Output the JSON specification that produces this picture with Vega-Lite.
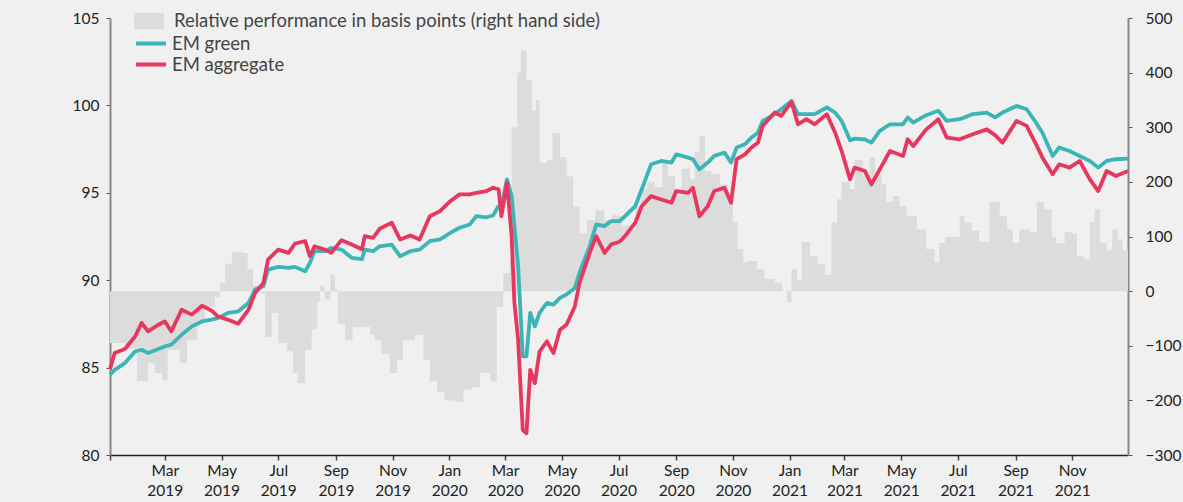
{
  "$schema": "https://vega.github.io/schema/vega-lite/v6.json",
  "width": 1018,
  "height": 437,
  "autosize": {"type": "none"},
  "padding": {"left": 110, "top": 18, "right": 55, "bottom": 47},
  "background": "#f0f0f0",
  "config": {
    "view": {"stroke": null},
    "font": "Lato",
    "axis": {"grid": false, "title": null, "labelFont": "Lato", "labelFontSize": 15.5, "labelColor": "#222"},
    "legend": {"labelFont": "Lato"}
  },
  "datasets": {
    "lines": [
      {"date": "2019-01-01", "green": 84.6, "aggregate": 84.9},
      {"date": "2019-01-06", "green": 84.87, "aggregate": 85.83},
      {"date": "2019-01-17", "green": 85.26, "aggregate": 86.06},
      {"date": "2019-01-28", "green": 85.92, "aggregate": 86.78},
      {"date": "2019-02-04", "green": 86.02, "aggregate": 87.55},
      {"date": "2019-02-11", "green": 85.83, "aggregate": 87.07},
      {"date": "2019-02-22", "green": 86.06, "aggregate": 87.45},
      {"date": "2019-03-01", "green": 86.21, "aggregate": 87.64},
      {"date": "2019-03-08", "green": 86.31, "aggregate": 87.07},
      {"date": "2019-03-19", "green": 86.88, "aggregate": 88.31},
      {"date": "2019-03-30", "green": 87.36, "aggregate": 88.03},
      {"date": "2019-04-10", "green": 87.64, "aggregate": 88.54},
      {"date": "2019-04-20", "green": 87.74, "aggregate": 88.27},
      {"date": "2019-04-27", "green": 87.83, "aggregate": 87.93},
      {"date": "2019-05-08", "green": 88.13, "aggregate": 87.74},
      {"date": "2019-05-19", "green": 88.22, "aggregate": 87.51},
      {"date": "2019-05-30", "green": 88.7, "aggregate": 88.31},
      {"date": "2019-06-06", "green": 89.46, "aggregate": 89.27},
      {"date": "2019-06-15", "green": 89.65, "aggregate": 89.84},
      {"date": "2019-06-20", "green": 90.61, "aggregate": 91.18},
      {"date": "2019-07-01", "green": 90.76, "aggregate": 91.75},
      {"date": "2019-07-12", "green": 90.7, "aggregate": 91.56},
      {"date": "2019-07-19", "green": 90.76, "aggregate": 92.1},
      {"date": "2019-07-30", "green": 90.51, "aggregate": 92.23},
      {"date": "2019-08-04", "green": 90.99, "aggregate": 91.37},
      {"date": "2019-08-09", "green": 91.66, "aggregate": 91.94},
      {"date": "2019-08-20", "green": 91.66, "aggregate": 91.75},
      {"date": "2019-08-27", "green": 91.85, "aggregate": 91.56},
      {"date": "2019-09-07", "green": 91.75, "aggregate": 92.29},
      {"date": "2019-09-18", "green": 91.28, "aggregate": 92.04},
      {"date": "2019-09-29", "green": 91.2, "aggregate": 91.77},
      {"date": "2019-10-02", "green": 91.75, "aggregate": 92.52},
      {"date": "2019-10-11", "green": 91.66, "aggregate": 92.42},
      {"date": "2019-10-18", "green": 91.94, "aggregate": 92.94},
      {"date": "2019-10-31", "green": 92.04, "aggregate": 93.29},
      {"date": "2019-11-09", "green": 91.37, "aggregate": 92.33},
      {"date": "2019-11-20", "green": 91.66, "aggregate": 92.56},
      {"date": "2019-11-30", "green": 91.75, "aggregate": 92.33},
      {"date": "2019-12-11", "green": 92.23, "aggregate": 93.66},
      {"date": "2019-12-22", "green": 92.33, "aggregate": 93.95},
      {"date": "2020-01-02", "green": 92.71, "aggregate": 94.52},
      {"date": "2020-01-12", "green": 93.0, "aggregate": 94.91},
      {"date": "2020-01-23", "green": 93.19, "aggregate": 94.91},
      {"date": "2020-01-30", "green": 93.66, "aggregate": 95.0},
      {"date": "2020-02-10", "green": 93.6, "aggregate": 95.1},
      {"date": "2020-02-17", "green": 93.7, "aggregate": 95.29},
      {"date": "2020-02-23", "green": 94.24, "aggregate": 95.2},
      {"date": "2020-02-26", "green": 94.24, "aggregate": 93.66},
      {"date": "2020-03-03", "green": 95.77, "aggregate": 95.58},
      {"date": "2020-03-08", "green": 94.81, "aggregate": 92.52},
      {"date": "2020-03-11", "green": 93.09, "aggregate": 88.7},
      {"date": "2020-03-15", "green": 90.8, "aggregate": 86.59},
      {"date": "2020-03-20", "green": 85.64, "aggregate": 81.43},
      {"date": "2020-03-24", "green": 85.64, "aggregate": 81.24},
      {"date": "2020-03-28", "green": 88.13, "aggregate": 84.87},
      {"date": "2020-04-02", "green": 87.36, "aggregate": 84.11},
      {"date": "2020-04-07", "green": 88.13, "aggregate": 85.92},
      {"date": "2020-04-15", "green": 88.7, "aggregate": 86.5},
      {"date": "2020-04-22", "green": 88.6, "aggregate": 85.83},
      {"date": "2020-04-29", "green": 88.99, "aggregate": 87.17},
      {"date": "2020-05-06", "green": 89.18, "aggregate": 87.45},
      {"date": "2020-05-15", "green": 89.56, "aggregate": 88.5},
      {"date": "2020-05-20", "green": 90.42, "aggregate": 89.84},
      {"date": "2020-05-31", "green": 91.94, "aggregate": 91.56},
      {"date": "2020-06-07", "green": 93.19, "aggregate": 92.52},
      {"date": "2020-06-16", "green": 93.1, "aggregate": 91.56},
      {"date": "2020-06-23", "green": 93.38, "aggregate": 92.04},
      {"date": "2020-07-02", "green": 93.38, "aggregate": 92.2},
      {"date": "2020-07-08", "green": 93.66, "aggregate": 92.52},
      {"date": "2020-07-19", "green": 94.24, "aggregate": 93.29},
      {"date": "2020-07-26", "green": 95.2, "aggregate": 94.24},
      {"date": "2020-08-05", "green": 96.63, "aggregate": 94.81},
      {"date": "2020-08-16", "green": 96.82, "aggregate": 94.62},
      {"date": "2020-08-27", "green": 96.73, "aggregate": 94.43},
      {"date": "2020-09-01", "green": 97.2, "aggregate": 95.1},
      {"date": "2020-09-14", "green": 97.01, "aggregate": 95.0},
      {"date": "2020-09-19", "green": 96.92, "aggregate": 95.29},
      {"date": "2020-09-26", "green": 96.34, "aggregate": 93.66},
      {"date": "2020-10-05", "green": 96.73, "aggregate": 94.24},
      {"date": "2020-10-12", "green": 97.11, "aggregate": 95.1},
      {"date": "2020-10-23", "green": 97.3, "aggregate": 95.29},
      {"date": "2020-10-30", "green": 96.73, "aggregate": 94.43},
      {"date": "2020-11-05", "green": 97.59, "aggregate": 96.92},
      {"date": "2020-11-14", "green": 97.78, "aggregate": 97.2},
      {"date": "2020-11-21", "green": 98.16, "aggregate": 97.59},
      {"date": "2020-11-28", "green": 98.44, "aggregate": 97.87},
      {"date": "2020-12-03", "green": 99.11, "aggregate": 98.83},
      {"date": "2020-12-16", "green": 99.5, "aggregate": 99.59},
      {"date": "2020-12-23", "green": 99.78, "aggregate": 99.4},
      {"date": "2021-01-03", "green": 100.26, "aggregate": 100.2},
      {"date": "2021-01-10", "green": 99.5, "aggregate": 98.92},
      {"date": "2021-01-19", "green": 99.5, "aggregate": 99.21},
      {"date": "2021-01-28", "green": 99.5, "aggregate": 98.92},
      {"date": "2021-02-10", "green": 99.88, "aggregate": 99.5},
      {"date": "2021-02-19", "green": 99.59, "aggregate": 98.44},
      {"date": "2021-02-26", "green": 99.11, "aggregate": 97.39},
      {"date": "2021-03-07", "green": 98.0, "aggregate": 95.77},
      {"date": "2021-03-12", "green": 98.1, "aggregate": 96.44},
      {"date": "2021-03-23", "green": 98.05, "aggregate": 96.25},
      {"date": "2021-03-30", "green": 97.87, "aggregate": 95.48},
      {"date": "2021-04-08", "green": 98.54, "aggregate": 96.34},
      {"date": "2021-04-19", "green": 98.92, "aggregate": 97.39},
      {"date": "2021-05-03", "green": 98.92, "aggregate": 97.11},
      {"date": "2021-05-08", "green": 99.31, "aggregate": 98.06},
      {"date": "2021-05-14", "green": 99.02, "aggregate": 97.68},
      {"date": "2021-05-28", "green": 99.44, "aggregate": 98.63},
      {"date": "2021-06-10", "green": 99.69, "aggregate": 99.21},
      {"date": "2021-06-19", "green": 99.11, "aggregate": 98.16},
      {"date": "2021-07-03", "green": 99.21, "aggregate": 98.06},
      {"date": "2021-07-17", "green": 99.5, "aggregate": 98.35},
      {"date": "2021-08-01", "green": 99.59, "aggregate": 98.63},
      {"date": "2021-08-10", "green": 99.31, "aggregate": 98.3},
      {"date": "2021-08-18", "green": 99.59, "aggregate": 97.87},
      {"date": "2021-09-02", "green": 99.97, "aggregate": 99.11},
      {"date": "2021-09-13", "green": 99.78, "aggregate": 98.83},
      {"date": "2021-09-23", "green": 99.02, "aggregate": 97.78},
      {"date": "2021-09-30", "green": 98.44, "aggregate": 97.01},
      {"date": "2021-10-11", "green": 97.11, "aggregate": 96.06},
      {"date": "2021-10-18", "green": 97.59, "aggregate": 96.63},
      {"date": "2021-10-29", "green": 97.39, "aggregate": 96.44},
      {"date": "2021-11-09", "green": 97.11, "aggregate": 96.82},
      {"date": "2021-11-20", "green": 96.82, "aggregate": 95.77},
      {"date": "2021-11-29", "green": 96.44, "aggregate": 95.1},
      {"date": "2021-12-08", "green": 96.82, "aggregate": 96.25},
      {"date": "2021-12-18", "green": 96.92, "aggregate": 95.96},
      {"date": "2021-12-31", "green": 96.96, "aggregate": 96.25}
    ],
    "rel": [
      {"date": "2019-01-01", "bp": -95},
      {"date": "2019-01-17", "bp": -105},
      {"date": "2019-01-30", "bp": -165},
      {"date": "2019-02-11", "bp": -132},
      {"date": "2019-02-18", "bp": -150},
      {"date": "2019-02-26", "bp": -163},
      {"date": "2019-03-04", "bp": -108},
      {"date": "2019-03-17", "bp": -132},
      {"date": "2019-03-25", "bp": -90},
      {"date": "2019-04-05", "bp": -55},
      {"date": "2019-04-13", "bp": -29},
      {"date": "2019-04-24", "bp": -11},
      {"date": "2019-04-29", "bp": 15},
      {"date": "2019-05-05", "bp": 50},
      {"date": "2019-05-12", "bp": 72},
      {"date": "2019-05-23", "bp": 70},
      {"date": "2019-05-29", "bp": 40},
      {"date": "2019-06-04", "bp": 10},
      {"date": "2019-06-13", "bp": -5},
      {"date": "2019-06-17", "bp": -84},
      {"date": "2019-06-24", "bp": -40},
      {"date": "2019-07-01", "bp": -95},
      {"date": "2019-07-10", "bp": -110},
      {"date": "2019-07-17", "bp": -150},
      {"date": "2019-07-22", "bp": -168},
      {"date": "2019-07-30", "bp": -108},
      {"date": "2019-08-06", "bp": -70},
      {"date": "2019-08-12", "bp": -20},
      {"date": "2019-08-15", "bp": 10},
      {"date": "2019-08-20", "bp": -15},
      {"date": "2019-08-26", "bp": 30},
      {"date": "2019-08-31", "bp": 5},
      {"date": "2019-09-03", "bp": -60},
      {"date": "2019-09-11", "bp": -90},
      {"date": "2019-09-19", "bp": -66},
      {"date": "2019-10-02", "bp": -65},
      {"date": "2019-10-08", "bp": -80},
      {"date": "2019-10-13", "bp": -90},
      {"date": "2019-10-20", "bp": -115},
      {"date": "2019-10-29", "bp": -150},
      {"date": "2019-11-06", "bp": -126},
      {"date": "2019-11-12", "bp": -90},
      {"date": "2019-11-25", "bp": -80},
      {"date": "2019-12-04", "bp": -126},
      {"date": "2019-12-11", "bp": -165},
      {"date": "2019-12-19", "bp": -185},
      {"date": "2019-12-27", "bp": -200},
      {"date": "2020-01-07", "bp": -203},
      {"date": "2020-01-16", "bp": -180},
      {"date": "2020-01-25", "bp": -176},
      {"date": "2020-02-03", "bp": -150},
      {"date": "2020-02-14", "bp": -165},
      {"date": "2020-02-21", "bp": -29},
      {"date": "2020-02-28", "bp": 33},
      {"date": "2020-03-06", "bp": 60},
      {"date": "2020-03-08", "bp": 300},
      {"date": "2020-03-14", "bp": 400},
      {"date": "2020-03-18", "bp": 441},
      {"date": "2020-03-24", "bp": 386},
      {"date": "2020-03-30", "bp": 330},
      {"date": "2020-04-03", "bp": 350},
      {"date": "2020-04-07", "bp": 235},
      {"date": "2020-04-15", "bp": 240},
      {"date": "2020-04-21", "bp": 289},
      {"date": "2020-04-29", "bp": 245},
      {"date": "2020-05-06", "bp": 210},
      {"date": "2020-05-13", "bp": 154},
      {"date": "2020-05-20", "bp": 106},
      {"date": "2020-05-28", "bp": 130},
      {"date": "2020-06-06", "bp": 148},
      {"date": "2020-06-16", "bp": 130},
      {"date": "2020-06-24", "bp": 140},
      {"date": "2020-06-27", "bp": 138},
      {"date": "2020-07-05", "bp": 120},
      {"date": "2020-07-13", "bp": 113},
      {"date": "2020-07-19", "bp": 156},
      {"date": "2020-07-25", "bp": 187},
      {"date": "2020-08-01", "bp": 200},
      {"date": "2020-08-09", "bp": 190},
      {"date": "2020-08-17", "bp": 236},
      {"date": "2020-08-23", "bp": 211},
      {"date": "2020-08-31", "bp": 174},
      {"date": "2020-09-07", "bp": 224},
      {"date": "2020-09-16", "bp": 205},
      {"date": "2020-09-21", "bp": 255},
      {"date": "2020-09-26", "bp": 284},
      {"date": "2020-10-02", "bp": 220},
      {"date": "2020-10-09", "bp": 215},
      {"date": "2020-10-18", "bp": 195},
      {"date": "2020-10-27", "bp": 168},
      {"date": "2020-11-01", "bp": 126},
      {"date": "2020-11-06", "bp": 77},
      {"date": "2020-11-12", "bp": 53},
      {"date": "2020-11-17", "bp": 55},
      {"date": "2020-11-27", "bp": 40},
      {"date": "2020-12-05", "bp": 22},
      {"date": "2020-12-16", "bp": 16},
      {"date": "2020-12-24", "bp": 0},
      {"date": "2020-12-29", "bp": -20},
      {"date": "2021-01-03", "bp": 40},
      {"date": "2021-01-09", "bp": 20},
      {"date": "2021-01-14", "bp": 90},
      {"date": "2021-01-23", "bp": 64},
      {"date": "2021-01-31", "bp": 50},
      {"date": "2021-02-08", "bp": 30},
      {"date": "2021-02-15", "bp": 126},
      {"date": "2021-02-21", "bp": 168},
      {"date": "2021-02-26", "bp": 200},
      {"date": "2021-03-07", "bp": 187},
      {"date": "2021-03-12", "bp": 240},
      {"date": "2021-03-21", "bp": 211},
      {"date": "2021-03-28", "bp": 245},
      {"date": "2021-04-03", "bp": 214},
      {"date": "2021-04-10", "bp": 196},
      {"date": "2021-04-15", "bp": 163},
      {"date": "2021-04-22", "bp": 174},
      {"date": "2021-04-29", "bp": 156},
      {"date": "2021-05-07", "bp": 138},
      {"date": "2021-05-18", "bp": 113},
      {"date": "2021-05-28", "bp": 77},
      {"date": "2021-06-06", "bp": 53},
      {"date": "2021-06-11", "bp": 88},
      {"date": "2021-06-17", "bp": 99},
      {"date": "2021-06-28", "bp": 99},
      {"date": "2021-07-03", "bp": 138},
      {"date": "2021-07-08", "bp": 126},
      {"date": "2021-07-16", "bp": 110},
      {"date": "2021-07-24", "bp": 90},
      {"date": "2021-08-04", "bp": 163},
      {"date": "2021-08-15", "bp": 138},
      {"date": "2021-08-23", "bp": 113},
      {"date": "2021-08-29", "bp": 88},
      {"date": "2021-09-05", "bp": 113},
      {"date": "2021-09-16", "bp": 108},
      {"date": "2021-09-24", "bp": 163},
      {"date": "2021-10-02", "bp": 150},
      {"date": "2021-10-10", "bp": 99},
      {"date": "2021-10-15", "bp": 88},
      {"date": "2021-10-24", "bp": 108},
      {"date": "2021-11-01", "bp": 105},
      {"date": "2021-11-06", "bp": 64},
      {"date": "2021-11-14", "bp": 58},
      {"date": "2021-11-20", "bp": 126},
      {"date": "2021-11-25", "bp": 150},
      {"date": "2021-12-01", "bp": 88},
      {"date": "2021-12-08", "bp": 75},
      {"date": "2021-12-14", "bp": 113},
      {"date": "2021-12-20", "bp": 95},
      {"date": "2021-12-25", "bp": 75},
      {"date": "2021-12-31", "bp": 75}
    ]
  },
  "layer": [
    {
      "data": {"name": "rel"},
      "mark": {"type": "area", "interpolate": "step-after"},
      "encoding": {
        "x": {
          "field": "date", "type": "temporal",
          "scale": {"domain": [{"year": 2019, "month": 1, "date": 1}, {"year": 2021, "month": 12, "date": 31}], "nice": false},
          "axis": {
            "values": [
              {"year": 2019, "month": 1, "date": 1}, {"year": 2019, "month": 3, "date": 1}, {"year": 2019, "month": 5, "date": 1},
              {"year": 2019, "month": 7, "date": 1}, {"year": 2019, "month": 9, "date": 1}, {"year": 2019, "month": 11, "date": 1},
              {"year": 2020, "month": 1, "date": 1}, {"year": 2020, "month": 3, "date": 1}, {"year": 2020, "month": 5, "date": 1},
              {"year": 2020, "month": 7, "date": 1}, {"year": 2020, "month": 9, "date": 1}, {"year": 2020, "month": 11, "date": 1},
              {"year": 2021, "month": 1, "date": 1}, {"year": 2021, "month": 3, "date": 1}, {"year": 2021, "month": 5, "date": 1},
              {"year": 2021, "month": 7, "date": 1}, {"year": 2021, "month": 9, "date": 1}, {"year": 2021, "month": 11, "date": 1}
            ],
            "labelExpr": "(month(datum.value) == 0 && year(datum.value) == 2019) ? '' : [timeFormat(datum.value, '%b'), timeFormat(datum.value, '%Y')]",
            "domainColor": "#222", "domainWidth": 1.5, "tickColor": "#444", "tickSize": 5, "tickWidth": 1.5,
            "labelPadding": 3, "labelLineHeight": 20
          }
        },
        "y": {
          "field": "bp", "type": "quantitative",
          "scale": {"domain": [-300, 500], "nice": false},
          "axis": {
            "orient": "right", "values": [-300, -200, -100, 0, 100, 200, 300, 400, 500],
            "domainColor": "#888", "domainWidth": 2, "tickColor": "#555", "tickSize": 4, "tickWidth": 1,
            "labelPadding": 13
          }
        },
        "fill": {
          "datum": "Relative performance in basis points (right hand side)", "type": "nominal",
          "scale": {"range": ["#dcdcdc"]},
          "legend": {
            "orient": "none", "legendX": 24, "legendY": -12, "direction": "vertical", "title": null,
            "symbolType": "M-1,-0.55H1V0.55H-1Z", "symbolSize": 900, "symbolStrokeWidth": 0,
            "labelFontSize": 18.5, "labelColor": "#444", "labelOffset": 10, "labelLimit": 0
          }
        }
      }
    },
    {
      "data": {"name": "lines"},
      "layer": [
        {
          "mark": {"type": "line", "strokeWidth": 3.8, "strokeJoin": "round"},
          "encoding": {
            "x": {"field": "date", "type": "temporal"},
            "y": {
              "field": "green", "type": "quantitative",
              "scale": {"domain": [80, 105], "nice": false},
              "axis": {"orient": "left", "values": [80, 85, 90, 95, 100, 105], "domainColor": "#888", "domainWidth": 2, "tickColor": "#555", "tickSize": 4, "labelPadding": 7}
            },
            "stroke": {
              "datum": "EM green", "type": "nominal",
              "scale": {"domain": ["EM green", "EM aggregate"], "range": ["#3bb5b5", "#e8375e"]},
              "legend": {
                "orient": "none", "legendX": 24, "legendY": 16, "direction": "vertical", "title": null,
                "symbolType": "M-1,0H3", "symbolSize": 225, "symbolStrokeWidth": 4,
                "labelFontSize": 18.5, "labelColor": "#444", "labelOffset": 19, "rowPadding": 2, "labelLimit": 0
              }
            }
          }
        },
        {
          "mark": {"type": "line", "strokeWidth": 3.8, "strokeJoin": "round"},
          "encoding": {
            "x": {"field": "date", "type": "temporal"},
            "y": {
              "field": "aggregate", "type": "quantitative",
              "scale": {"domain": [80, 105], "nice": false},
              "axis": {"orient": "left", "values": [80, 85, 90, 95, 100, 105], "domainColor": "#888", "domainWidth": 2, "tickColor": "#555", "tickSize": 4, "labelPadding": 7}
            },
            "stroke": {
              "datum": "EM aggregate", "type": "nominal",
              "scale": {"domain": ["EM green", "EM aggregate"], "range": ["#3bb5b5", "#e8375e"]}
            }
          }
        }
      ]
    }
  ],
  "resolve": {"scale": {"y": "independent"}}
}
